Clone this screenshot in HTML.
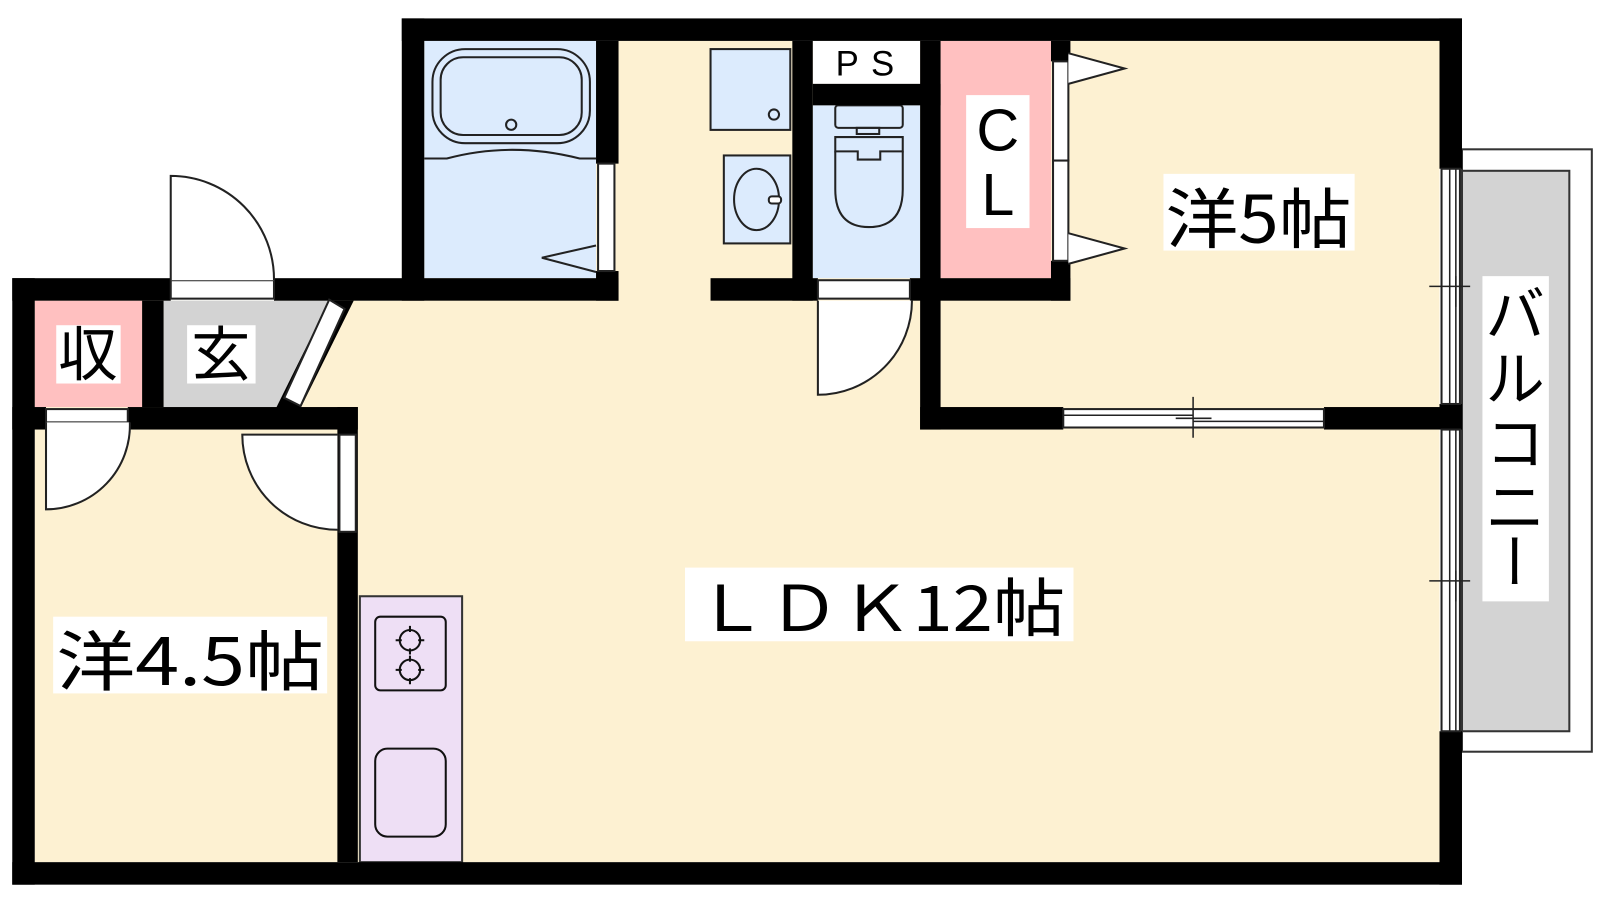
<!DOCTYPE html>
<html><head><meta charset="utf-8"><style>html,body{margin:0;padding:0;background:#fff}svg{display:block}</style></head>
<body>
<svg width="1600" height="900" viewBox="0 0 1565 880" preserveAspectRatio="none" xmlns="http://www.w3.org/2000/svg" font-family="'Liberation Sans','Noto Sans CJK JP',sans-serif">
<rect x="393" y="40" width="1015" height="803" fill="#FDF1D2"/>
<rect x="34" y="294" width="360" height="549" fill="#FDF1D2"/>
<rect x="415" y="40" width="168" height="232" fill="#DCEBFD"/>
<rect x="795" y="103" width="105" height="169" fill="#DCEBFD"/>
<rect x="795" y="40" width="105" height="42" fill="#fff"/>
<rect x="920" y="40" width="108" height="232" fill="#FFC0C0"/>
<rect x="34" y="294" width="105" height="104" fill="#FFC0C0"/>
<polygon points="160,294 322,294 272,398 160,398" fill="#D3D3D3"/>
<rect x="1430" y="146" width="127" height="589" fill="#fff" stroke="#333" stroke-width="2"/>
<rect x="1430" y="167" width="105" height="548" fill="#D3D3D3" stroke="#333" stroke-width="2"/>
<rect x="352" y="583" width="100" height="260" fill="#EEDFF5" stroke="#333" stroke-width="2"/>
<rect x="367" y="603" width="69" height="72" rx="5" fill="none" stroke="#111" stroke-width="2"/>
<g fill="none" stroke="#111" stroke-width="2">
<circle cx="401" cy="626" r="10"/><circle cx="401" cy="655" r="10"/>
<path d="M401 612v6M401 634v6M387 626h6M409 626h6M401 641v6M401 663v6M387 655h6M409 655h6"/>
<rect x="367" y="732" width="69" height="86" rx="12"/>
</g>
<g fill="none" stroke="#222" stroke-width="2">
<rect x="423" y="48" width="154" height="92" rx="32"/>
<rect x="431" y="56" width="138" height="76" rx="22"/>
<circle cx="500" cy="122" r="5"/>
<path d="M415 155 L437 155 Q500 138 567 155 L583 155"/>
<path d="M583 240 L530 252 L583 266"/>
</g>
<g fill="#DCEBFD" stroke="#222" stroke-width="2">
<rect x="695" y="48" width="78" height="79"/>
<rect x="708" y="152" width="65" height="86"/>
</g>
<g fill="none" stroke="#222" stroke-width="2">
<circle cx="757" cy="112" r="5"/>
<ellipse cx="740" cy="195" rx="22" ry="30"/>
<rect x="752" y="192" width="12" height="7" rx="3" fill="#fff"/>
</g>
<g fill="none" stroke="#222" stroke-width="2">
<rect x="817" y="103" width="66" height="22" rx="3"/>
<rect x="838" y="125" width="22" height="6"/>
<path d="M817 134 h66 v14 h-22 v8 h-22 v-8 h-22 z"/>
<path d="M817 148 V185 Q817 222 850 222 Q883 222 883 185 V148"/>
</g>
<g fill="#000">
<rect x="393" y="18" width="1037" height="22"/>
<rect x="1408" y="18" width="22" height="147"/>
<rect x="1408" y="395" width="22" height="25"/>
<rect x="1408" y="715" width="22" height="150"/>
<rect x="12" y="843" width="1418" height="22"/>
<rect x="12" y="272" width="22" height="593"/>
<rect x="12" y="272" width="155" height="22"/>
<rect x="268" y="272" width="337" height="22"/>
<rect x="393" y="18" width="22" height="276"/>
<rect x="583" y="40" width="22" height="120"/>
<rect x="583" y="265" width="22" height="29"/>
<rect x="695" y="272" width="105" height="22"/>
<rect x="890" y="272" width="157" height="22"/>
<rect x="775" y="40" width="20" height="254"/>
<rect x="795" y="82" width="125" height="21"/>
<rect x="900" y="40" width="20" height="380"/>
<rect x="1028" y="40" width="19" height="20"/>
<rect x="1028" y="255" width="19" height="39"/>
<rect x="900" y="398" width="140" height="22"/>
<rect x="1295" y="398" width="135" height="22"/>
<rect x="139" y="294" width="21" height="104"/>
<rect x="12" y="398" width="33" height="22"/>
<rect x="125" y="398" width="225" height="22"/>
<rect x="330" y="398" width="20" height="445"/>
<polygon points="322,294 346,294 294,399 270,399"/>
</g>
<g fill="#fff" stroke="#222" stroke-width="2">
<polygon points="322,293 337,302 294,397 278,389"/>
<rect x="585" y="160" width="16" height="105"/>
<rect x="1030" y="60" width="15" height="97"/>
<rect x="1030" y="157" width="15" height="98"/>
<path d="M1045 52 L1100 67 L1045 82"/>
<path d="M1045 228 L1100 243 L1045 258"/>
<rect x="167" y="274" width="101" height="18"/>
<path d="M167 274 V172 A101 101 0 0 1 268 274"/>
<rect x="800" y="274" width="90" height="18"/>
<path d="M800 294 V386 A92 92 0 0 0 892 294"/>
<rect x="45" y="400" width="80" height="13"/>
<path d="M45 413 V498 A82 82 0 0 0 127 413"/>
<rect x="332" y="425" width="16" height="95"/>
<path d="M330 425 H237 A93 93 0 0 0 330 518"/>
<rect x="1040" y="400" width="255" height="18"/>
<rect x="1410" y="165" width="18" height="230"/>
<rect x="1410" y="420" width="18" height="295"/>
</g>
<g stroke="#222" stroke-width="1.5" fill="none">
<path d="M1040 406 H1167 M1167 412 H1295 M1167 388 V428 M1150 409 H1185"/>
<path d="M1418 165 V395 M1424 165 V395 M1418 420 V715 M1424 420 V715"/>
<path d="M1398 280 H1438 M1424 270 V300 M1398 568 H1438 M1424 558 V588"/>
</g>
<g fill="#fff">
<rect x="670" y="555" width="380" height="72"/>
<rect x="1138" y="170" width="187" height="75"/>
<rect x="52" y="603" width="268" height="75"/>
<rect x="55" y="318" width="63" height="57"/>
<rect x="183" y="318" width="67" height="57"/>
<rect x="945" y="93" width="62" height="130"/>
<rect x="1450" y="270" width="65" height="318"/>
</g>
<g fill="#000" font-family="'Noto Sans CJK JP',sans-serif">
<text x="680" y="617" font-size="62" textLength="362" lengthAdjust="spacingAndGlyphs">ＬＤＫ12帖</text>
<text x="1140" y="237" font-size="64" textLength="182" lengthAdjust="spacingAndGlyphs">洋5帖</text>
<text x="55" y="670" font-size="64" textLength="262" lengthAdjust="spacingAndGlyphs">洋4.5帖</text>
<text x="57" y="367" font-size="58">収</text>
<text x="187" y="367" font-size="58">玄</text>
<text x="1453" y="328" font-size="58">バ</text>
<text x="1453" y="391" font-size="58">ル</text>
<text x="1453" y="454" font-size="58">コ</text>
<text x="1453" y="517" font-size="58">ニ</text>
<text x="1482" y="520" font-size="58" writing-mode="tb" dominant-baseline="central" text-anchor="start">ー</text>
</g>
<g fill="#000" font-family="'Liberation Sans',sans-serif">
<text x="976" y="147" font-size="58" text-anchor="middle">C</text>
<text x="976" y="210" font-size="58" text-anchor="middle">L</text>
<text x="852" y="74" font-size="34" text-anchor="middle" letter-spacing="12">PS</text>
</g>
</svg>
</body></html>
